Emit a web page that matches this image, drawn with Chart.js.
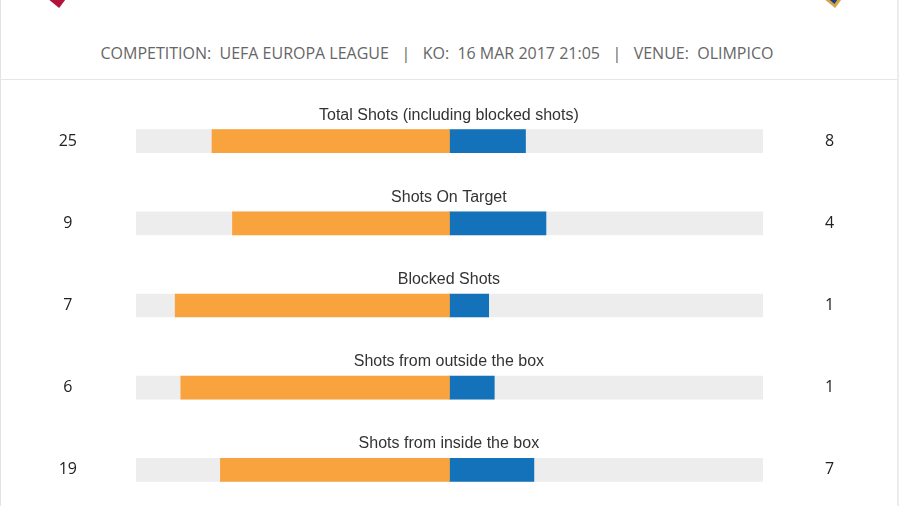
<!DOCTYPE html>
<html>
<head>
<meta charset="utf-8">
<script src="https://cdn.jsdelivr.net/npm/chart.js@4.4.0/dist/chart.umd.min.js"></script>
<style>
  html, body { margin: 0; padding: 0; width: 900px; height: 506px; overflow: hidden; background: #fff; }
  #frame { position: absolute; left: 0; top: 0; width: 896px; height: 506px; border-left: 1px solid #e3e3e3; border-right: 2px solid #ececec; }
  #header { position: absolute; left: 0; top: 42px; width: 874px; text-align: center; font-family: "Open Sans", sans-serif; font-size: 16px; color: #666; white-space: pre; }
  #rule { position: absolute; left: 0; top: 79px; width: 897px; height: 1px; background: #e6e6e6; }
  .crest { position: absolute; top: -14px; width: 26px; height: 22px; clip-path: polygon(0 0, 100% 0, 100% 40%, 62% 100%, 0 40%); }
  #home { left: 43px; background: #b3123c; }
  #away { left: 819px; background: #d9a441; }
  #away i { position: absolute; left: 3px; top: 0; width: 20px; height: 18px; background: #1c3f8e; clip-path: polygon(0 0, 100% 0, 100% 40%, 62% 100%, 0 40%); }
  #myChart { position: absolute; left: 0; top: 80px; }
</style>
</head>
<body>
<div id="frame"></div>
<div class="crest" id="home"></div>
<div class="crest" id="away"><i></i></div>
<div id="header">COMPETITION:  UEFA EUROPA LEAGUE   |   KO:  16 MAR 2017 21:05   |   VENUE:  OLIMPICO</div>
<div id="rule"></div>
<canvas id="myChart" width="900" height="440"></canvas>
<script>
var stat_names = [
    'Total Shots (including blocked shots)',
    'Shots On Target',
    'Blocked Shots',
    'Shots from outside the box',
    'Shots from inside the box'
];
var home_values = [25, 9, 7, 6, 19];
var away_values = [8, 4, 1, 1, 7];

// each row is split by share of the row total
function homeShare(i) { return -home_values[i] / (home_values[i] + away_values[i]); }
function awayShare(i) { return away_values[i] / (home_values[i] + away_values[i]); }

var titlePlugin = {
    id: 'rowTitles',
    afterDatasetsDraw(chart) {
        const c = chart.ctx;
        const y = chart.scales.y;
        const x = chart.scales.x;
        c.save();
        c.font = '16px "Liberation Sans", Arial, sans-serif';
        c.fillStyle = '#333';
        c.textAlign = 'center';
        c.textBaseline = 'middle';
        stat_names.forEach((name, i) => {
            c.fillText(name, x.getPixelForValue(-0.002), y.getPixelForValue(i) - 26);
        });
        c.restore();
    }
};

// fixed side columns, no extra vertical padding from the tick labels
function sideColumn(width) {
    return function (scale) {
        scale.width = width;
        scale.paddingTop = 0;
        scale.paddingBottom = 0;
    };
}

const ctx = document.getElementById('myChart').getContext('2d');
const myChart = new Chart(ctx, {
    type: 'bar',
    data: {
        labels: home_values.map(String),
        datasets: [{
            label: 'home',
            data: home_values.map((v, i) => [homeShare(i), 0]),
            backgroundColor: '#f9a33e'
        }, {
            label: 'away',
            data: away_values.map((v, i) => [0, awayShare(i)]),
            backgroundColor: '#1372b9'
        }, {
            label: 'track',
            data: home_values.map(() => [-1, 1]),
            backgroundColor: '#ededed'
        }]
    },
    options: {
        indexAxis: 'y',
        responsive: false,
        animation: false,
        layout: { padding: { top: 20, bottom: 9, left: 0, right: 0 } },
        plugins: { legend: { display: false }, tooltip: { enabled: false } },
        datasets: { bar: { grouped: false, barThickness: 23, borderWidth: 0 } },
        scales: {
            x: { min: -1, max: 1, display: false },
            y: {
                offset: true,
                grid: { display: false, drawTicks: false },
                border: { display: false },
                ticks: {
                    crossAlign: 'center', padding: 59, color: '#222',
                    font: { family: '"Open Sans", sans-serif', size: 16 }
                },
                afterFit: sideColumn(136)
            },
            y2: {
                type: 'category',
                position: 'right',
                labels: away_values.map(String),
                offset: true,
                grid: { display: false, drawTicks: false },
                border: { display: false },
                ticks: {
                    crossAlign: 'center', padding: 62, color: '#222',
                    font: { family: '"Open Sans", sans-serif', size: 16 }
                },
                afterFit: sideColumn(137)
            }
        }
    },
    plugins: [titlePlugin]
});
</script>
</body>
</html>
